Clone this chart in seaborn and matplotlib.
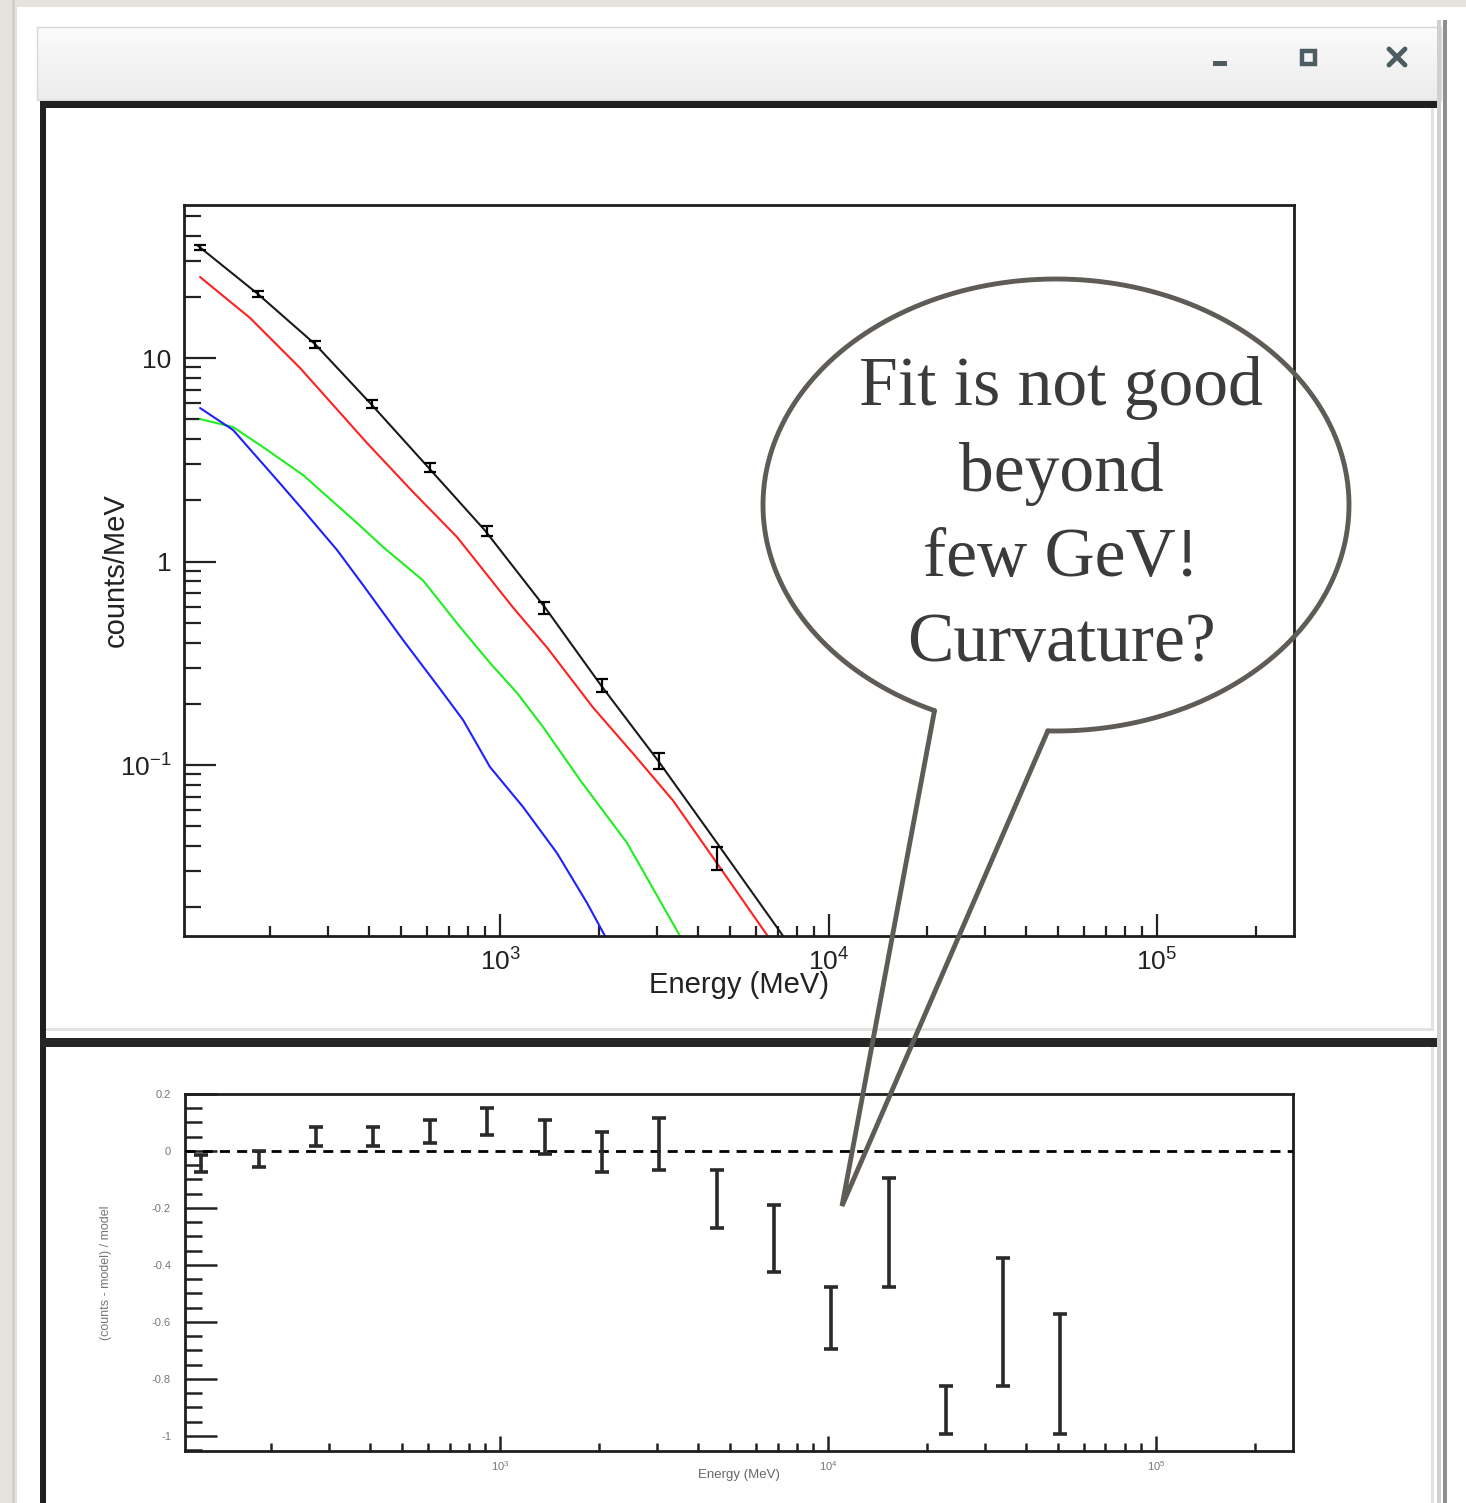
import numpy as np
import pandas as pd
import matplotlib
matplotlib.use("Agg")
import matplotlib.pyplot as plt
import seaborn as sns
from matplotlib.patches import Rectangle
from matplotlib.lines import Line2D
from matplotlib.ticker import LogLocator, FuncFormatter, MultipleLocator, NullFormatter

# ---------------- data ----------------
data_energy = [122, 183, 273, 408, 610, 912, 1364, 2040, 3050, 4561]
data_counts = [35.1, 20.6, 11.7, 5.94, 2.91, 1.42, 0.594, 0.246, 0.105, 0.0349]
data_err = [1.0, 0.7, 0.45, 0.27, 0.15, 0.08, 0.04, 0.018, 0.009, 0.0045]

total_energy = [119.6, 183.4, 273.4, 404.9, 603.7, 900.2, 1371, 2030, 3027, 4576, 7271]
total_counts = [35.9, 20.6, 11.7, 5.94, 2.91, 1.42, 0.594, 0.246, 0.105, 0.0414, 0.01445]

red_energy = [122.1, 173.4, 246.2, 393.7, 543.5, 739.8, 1095.5, 1390, 1919, 2541, 3362, 4450, 6545]
red_counts = [25.0, 15.73, 8.93, 3.82, 2.195, 1.319, 0.594, 0.378, 0.1917, 0.1139, 0.0669, 0.0351, 0.01436]

green_energy = [122.1, 153.9, 189.9, 251.4, 367.0, 440.4, 583.0, 755.5, 932.3, 1127, 1352, 1752, 2436, 3531]
green_counts = [5.014, 4.58, 3.65, 2.66, 1.546, 1.178, 0.807, 0.4766, 0.3171, 0.2259, 0.1537, 0.0844, 0.0414, 0.01444]

blue_energy = [122.1, 153.9, 209.5, 251.4, 319.0, 382.8, 506.7, 656.8, 771.7, 932.3, 1175, 1491, 1840, 2087]
blue_counts = [5.68, 4.43, 2.515, 1.791, 1.139, 0.766, 0.4113, 0.2363, 0.1664, 0.0977, 0.0622, 0.0369, 0.0210, 0.01444]

resid_energy = [122, 183, 273, 408, 610, 912, 1364, 2040, 3050, 4561, 6821, 10200, 15253, 22810, 34110, 51010]
resid_value = [-0.045, -0.028, 0.051, 0.051, 0.068, 0.104, 0.049, -0.004, 0.025, -0.169,
               -0.307, -0.587, -0.286, -0.910, -0.600, -0.784]
resid_err = [0.030, 0.028, 0.033, 0.033, 0.040, 0.048, 0.060, 0.070, 0.090, 0.102,
             0.118, 0.109, 0.190, 0.084, 0.225, 0.211]

bubble_lines = ["Fit is not good", "beyond", "few GeV!", "Curvature?"]

# ---------------- figure ----------------
W, H = 1466, 1503
sns.set_theme(style="white")
plt.rcParams['font.family'] = ['Liberation Sans', 'DejaVu Sans']
plt.rcParams['mathtext.default'] = 'regular'
plt.rcParams['axes.unicode_minus'] = False

fig = plt.figure(figsize=(W / 100, H / 100), dpi=100)
fig.patch.set_facecolor('white')

# background / window decoration
bg = fig.add_axes([0, 0, 1, 1], zorder=0)
bg.set_xlim(0, W)
bg.set_ylim(H, 0)
bg.axis('off')
bg.add_patch(Rectangle((0, 0), W, 7, color='#e6e3de', lw=0))
bg.add_patch(Rectangle((0, 0), 17, H, color='#e6e3de', lw=0))
bg.add_patch(Rectangle((12, 0), 3, H, color='#d4d1cc', lw=0))
grad = np.linspace(0.985, 0.925, 50).reshape(-1, 1)
bg.imshow(np.dstack([grad, grad, grad]), extent=(37, 1441, 100, 27), aspect='auto', zorder=1)
bg.add_patch(Rectangle((37, 27), 1404, 73, fill=False, ec='#d8d8d8', lw=1, zorder=2))
bg.set_xlim(0, W)
bg.set_ylim(H, 0)
# title bar buttons
btn = '#4c5c62'
bg.add_patch(Rectangle((1213, 61), 14, 5, color=btn, lw=0, zorder=3))
bg.add_patch(Rectangle((1302, 51), 13, 13, fill=False, ec=btn, lw=3.2, zorder=3))
bg.add_line(Line2D([1389, 1405], [49, 65], color=btn, lw=3.5, zorder=3))
bg.add_line(Line2D([1389, 1405], [65, 49], color=btn, lw=3.5, zorder=3))
# ROOT pad frames
bg.add_patch(Rectangle((40, 101), 1398, 7, color='#202020', lw=0, zorder=3))
bg.add_patch(Rectangle((40, 101), 6, H - 101, color='#202020', lw=0, zorder=3))
bg.add_patch(Rectangle((40, 1038), 1398, 9, color='#262626', lw=0, zorder=3))
bg.add_patch(Rectangle((46, 1028), 1387, 3, color='#e2e2e2', lw=0, zorder=3))
bg.add_patch(Rectangle((1431, 108), 3, 923, color='#e2e2e2', lw=0, zorder=3))
bg.add_patch(Rectangle((1431, 1047), 3, H - 1047, color='#e2e2e2', lw=0, zorder=3))
bg.add_patch(Rectangle((1437, 20), 4, H - 20, color='#d0d0d0', lw=0, zorder=3))
bg.add_patch(Rectangle((1443, 20), 4, H - 20, color='#8f8f8f', lw=0, zorder=3))

# ---------------- top panel ----------------
ax1 = fig.add_axes([184 / W, 1 - 936 / H, 1110 / W, 731 / H], zorder=2)
ax1.set_xscale('log')
ax1.set_yscale('log')

curves = pd.concat([
    pd.DataFrame({'energy': total_energy, 'counts': total_counts, 'component': 'total'}),
    pd.DataFrame({'energy': red_energy, 'counts': red_counts, 'component': 'red'}),
    pd.DataFrame({'energy': green_energy, 'counts': green_counts, 'component': 'green'}),
    pd.DataFrame({'energy': blue_energy, 'counts': blue_counts, 'component': 'blue'}),
])
palette = {'total': '#1a1a1a', 'red': '#ff2020', 'green': '#20ee20', 'blue': '#2020ff'}
sns.lineplot(data=curves, x='energy', y='counts', hue='component', palette=palette,
             estimator=None, sort=False, lw=1.5, legend=False, ax=ax1)
ax1.errorbar(data_energy, data_counts, yerr=data_err, fmt='none', ecolor='black',
             elinewidth=1.6, capsize=4.5, capthick=1.6, zorder=5)

ax1.set_xlim(109.1, 2.612e5)
ax1.set_ylim(0.01445, 56.5)
for s in ax1.spines.values():
    s.set_color('#1e1e1e')
    s.set_linewidth(2)
ax1.xaxis.set_major_locator(LogLocator(base=10))
ax1.xaxis.set_minor_locator(LogLocator(base=10, subs=np.arange(2, 10)))
ax1.yaxis.set_major_locator(LogLocator(base=10))
ax1.yaxis.set_minor_locator(LogLocator(base=10, subs=np.arange(2, 10)))
ax1.xaxis.set_minor_formatter(NullFormatter())
ax1.yaxis.set_minor_formatter(NullFormatter())


def xfmt(v, pos):
    e = int(round(np.log10(v)))
    return r'$10^{%d}$' % e


def yfmt(v, pos):
    e = int(round(np.log10(v)))
    if e == 0:
        return '1'
    if e == 1:
        return '10'
    return r'$10^{%d}$' % e


ax1.xaxis.set_major_formatter(FuncFormatter(xfmt))
ax1.yaxis.set_major_formatter(FuncFormatter(yfmt))
ax1.tick_params(axis='y', which='major', direction='in', length=23, width=1.6,
                labelsize=19, pad=9, colors='#222222', left=True, right=False)
ax1.tick_params(axis='y', which='minor', direction='in', length=12, width=1.6,
                left=True, right=False, colors='#222222')
ax1.tick_params(axis='x', which='major', direction='in', length=16, width=1.6,
                labelsize=19, pad=9, colors='#222222', bottom=True, top=False)
ax1.tick_params(axis='x', which='minor', direction='in', length=7, width=1.6,
                bottom=True, top=False, colors='#222222')
ax1.set_xlabel('Energy (MeV)', fontsize=21, color='#222222')
ax1.set_ylabel('counts/MeV', fontsize=21, color='#222222')
ax1.xaxis.set_label_coords(0.5, -0.048)
ax1.yaxis.set_label_coords(-0.049, 0.5)

# ---------------- residual panel ----------------
ax2 = fig.add_axes([185 / W, 1 - 1451 / H, 1108 / W, 357 / H], zorder=2)
ax2.set_xscale('log')
ax2.errorbar(resid_energy, resid_value, yerr=resid_err, fmt='none', ecolor='#2a2a2a',
             elinewidth=2.6, capsize=5, capthick=2.6, zorder=5)
ax2.axhline(0, color='black', lw=2, ls=(0, (3.6, 2.6)), zorder=4)
ax2.set_xlim(109.1, 2.612e5)
ax2.set_ylim(-1.053, 0.2)
for s in ax2.spines.values():
    s.set_color('#1e1e1e')
    s.set_linewidth(2)
ax2.xaxis.set_major_locator(LogLocator(base=10))
ax2.xaxis.set_minor_locator(LogLocator(base=10, subs=np.arange(2, 10)))
ax2.xaxis.set_minor_formatter(NullFormatter())
ax2.xaxis.set_major_formatter(FuncFormatter(xfmt))
ax2.yaxis.set_major_locator(MultipleLocator(0.2))
ax2.yaxis.set_minor_locator(MultipleLocator(0.05))
ax2.yaxis.set_major_formatter(FuncFormatter(lambda v, p: '0' if abs(v) < 1e-9 else ('%g' % round(v, 2))))
ax2.tick_params(axis='y', which='major', direction='in', length=23, width=1.8,
                labelsize=8, pad=10, colors='#222222', labelcolor='#777777', left=True, right=False)
ax2.tick_params(axis='y', which='minor', direction='in', length=12, width=1.8,
                left=True, right=False, colors='#222222')
ax2.tick_params(axis='x', which='major', direction='in', length=11, width=1.8,
                labelsize=8, pad=6, colors='#222222', labelcolor='#777777', bottom=True, top=False)
ax2.tick_params(axis='x', which='minor', direction='in', length=6, width=1.8,
                bottom=True, top=False, colors='#222222')
ax2.set_xlabel('Energy (MeV)', fontsize=9.5, color='#666666')
ax2.set_ylabel('(counts - model) / model', fontsize=9, color='#777777')
ax2.xaxis.set_label_coords(0.5, -0.05)
ax2.yaxis.set_label_coords(-0.066, 0.5)

# ---------------- speech bubble overlay ----------------
ov = fig.add_axes([0, 0, 1, 1], zorder=6)
ov.set_xlim(0, W)
ov.set_ylim(H, 0)
ov.axis('off')
ov.patch.set_alpha(0)
cx, cy, a, b = 1056, 505, 293, 226
t = np.radians(np.linspace(114.5, 451.6, 400))
bubble_col = '#5f5b57'
ov.plot(cx + a * np.cos(t), cy + b * np.sin(t), color=bubble_col, lw=3.5, solid_capstyle='round')
ov.plot([cx + a * np.cos(np.radians(114.5)), 842, cx + a * np.cos(np.radians(91.6))],
        [cy + b * np.sin(np.radians(114.5)), 1206, cy + b * np.sin(np.radians(91.6))],
        color=bubble_col, lw=3.5, solid_joinstyle='miter')
for i, line in enumerate(bubble_lines):
    ov.text(1061, 388 + i * 85.5, line, ha='center', va='center', fontsize=50,
            family=['Liberation Serif', 'DejaVu Serif'], color='#3b3b3b')

fig.savefig('out.png', dpi=100)
